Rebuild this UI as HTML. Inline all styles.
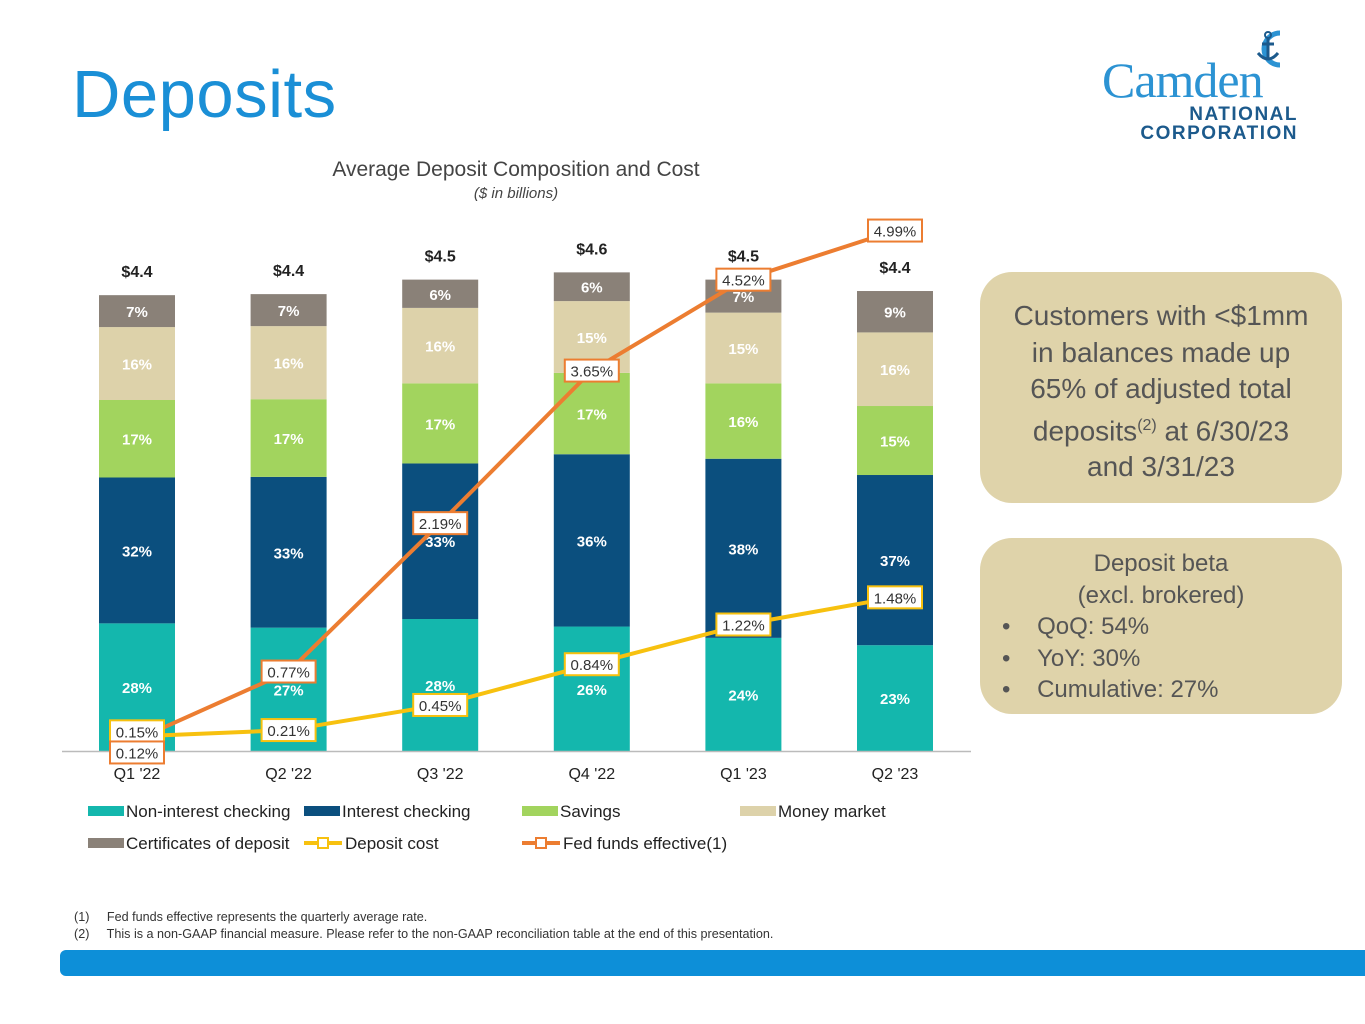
<!DOCTYPE html>
<html><head><meta charset="utf-8">
<style>
body{margin:0;width:1365px;height:1024px;background:#fff;font-family:"Liberation Sans","DejaVu Sans",sans-serif;position:relative;overflow:hidden}
.title{position:absolute;left:72px;top:56px;font-size:67px;color:#1a8fd6;letter-spacing:0.5px}
.box{position:absolute;background:#dfd3aa;border-radius:32px;color:#555;text-align:center}
.foot{position:absolute;left:74px;font-size:12.6px;color:#333}
</style></head><body>
<div class="title">Deposits</div>
<div style="position:absolute;left:1100px;top:25px;width:200px;height:120px">
<svg width="200" height="120" style="position:absolute;left:0;top:0"><path d="M180 8 A15 15 0 1 0 180 40" fill="none" stroke="#2c93d3" stroke-width="5"/><circle cx="168" cy="10" r="3" fill="none" stroke="#1c5a8c" stroke-width="2"/><path d="M168 13 v22 M162 19 h12 M158 28 q10 12 20 0" fill="none" stroke="#1c5a8c" stroke-width="3"/></svg>
<div style="position:absolute;left:2px;top:26px;font-family:'Liberation Serif',serif;font-size:50px;color:#2c93d3;letter-spacing:-1px">Camden</div>
<div style="position:absolute;right:2px;top:80px;font-size:19px;font-weight:bold;color:#1c5a8c;letter-spacing:1.5px;text-align:right;line-height:19px">NATIONAL<br>CORPORATION</div>
</div>
<div class="box" style="left:980px;top:272px;width:362px;height:231px;font-size:28px;line-height:36.5px;padding-top:26px;box-sizing:border-box">Customers with &lt;$1mm<br>in balances made up<br>65% of adjusted total<br>deposits<sup style="font-size:16px">(2)</sup> at 6/30/23<br>and 3/31/23</div>
<div class="box" style="left:980px;top:538px;width:362px;height:176px;font-size:24px;line-height:31.5px;padding-top:10px;box-sizing:border-box">
<div>Deposit beta</div><div>(excl. brokered)</div>
<div style="text-align:left;padding-left:22px">•&nbsp;&nbsp;&nbsp;&nbsp;QoQ: 54%</div>
<div style="text-align:left;padding-left:22px">•&nbsp;&nbsp;&nbsp;&nbsp;YoY: 30%</div>
<div style="text-align:left;padding-left:22px">•&nbsp;&nbsp;&nbsp;&nbsp;Cumulative: 27%</div></div>
<div class="foot" style="top:910px">(1)&nbsp;&nbsp;&nbsp;&nbsp; Fed funds effective represents the quarterly average rate.</div>
<div class="foot" style="top:927px">(2)&nbsp;&nbsp;&nbsp;&nbsp; This is a non-GAAP financial measure. Please refer to the non-GAAP reconciliation table at the end of this presentation.</div>
<div style="position:absolute;left:60px;top:950px;width:1305px;height:26px;background:#0d8fd8;border-radius:6px 0 0 6px"></div>
<svg id="chart" width="1365" height="1024" style="position:absolute;left:0;top:0"></svg>
<script>
const categories=["Q1 '22","Q2 '22","Q3 '22","Q4 '22","Q1 '23","Q2 '23"];
const totals=[4.40,4.41,4.55,4.62,4.55,4.44];
const totalLabels=["$4.4","$4.4","$4.5","$4.6","$4.5","$4.4"];
const nonInterest=[28,27,28,26,24,23];
const interest=[32,33,33,36,38,37];
const savings=[17,17,17,17,16,15];
const moneyMarket=[16,16,16,15,15,16];
const cds=[7,7,6,6,7,9];
const depositCost=[0.15,0.21,0.45,0.84,1.22,1.48];
const fedFunds=[0.12,0.77,2.19,3.65,4.52,4.99];
const NS="http://www.w3.org/2000/svg";
const svg=document.getElementById('chart');
const base=751, barW=76;
const x=i=>137+i*151.6;
const yB=v=>base-v*103.6;
const yR=v=>752-v*104.5;
function el(t,a,p){const e=document.createElementNS(NS,t);for(const k in a)e.setAttribute(k,a[k]);(p||svg).appendChild(e);return e;}
function txt(s,a){const e=el('text',a);e.textContent=s;return e;}
txt("Average Deposit Composition and Cost",{x:516,y:176,'text-anchor':'middle','font-size':21,fill:'#444'});
txt("($ in billions)",{x:516,y:198,'text-anchor':'middle','font-size':15,'font-style':'italic',fill:'#444'});
const series=[[nonInterest,'#14b7ad','non-interest-checking'],[interest,'#0b4f7e','interest-checking'],[savings,'#a2d45e','savings'],[moneyMarket,'#ddd2aa','money-market'],[cds,'#8a8178','certificates-of-deposit']];
categories.forEach((c,i)=>{
  let cum=0;
  series.forEach(([arr,col,nm])=>{
    const v0=totals[i]*cum/100, v1=totals[i]*(cum+arr[i])/100;
    const r=el('rect',{x:x(i)-barW/2,y:yB(v1),width:barW,height:yB(v0)-yB(v1),fill:col});
    
    
    const t=txt(arr[i]+'%',{x:x(i),y:(yB(v0)+yB(v1))/2+6,'text-anchor':'middle','font-size':15,'font-weight':'bold',fill:'#fff'});
    
    cum+=arr[i];
  });
  const tl=txt(totalLabels[i],{x:x(i),y:yB(totals[i])-18,'text-anchor':'middle','font-size':16,'font-weight':'bold',fill:'#222'});
  
  const cl=txt(c,{x:x(i),y:779,'text-anchor':'middle','font-size':16,fill:'#222'});
  
});
const ax=el('line',{x1:62,x2:971,y1:751.5,y2:751.5,stroke:'#bbb','stroke-width':1.5});

function line(arr,col,nm){
  const p=el('polyline',{points:arr.map((v,i)=>x(i)+','+yR(v)).join(' '),fill:'none',stroke:col,'stroke-width':4});
  
  
}
line(fedFunds,'#ec7d31','fed-funds');
line(depositCost,'#f7c10f','deposit-cost');
function label(v,i,col,dy){
  const s=v.toFixed(2)+'%';const cx=x(i),cy=yR(v)+dy;
  const r=el('rect',{x:cx-27,y:cy-11,width:54,height:22,fill:'#fff',stroke:col,'stroke-width':2});
  
  const t=txt(s,{x:cx,y:cy+6,'text-anchor':'middle','font-size':15,fill:'#333'});
  
}
depositCost.forEach((v,i)=>label(v,i,'#f7c10f',i===0?-5:0));
fedFunds.forEach((v,i)=>label(v,i,'#ec7d31',i===0?13:0));
const leg=[['Non-interest checking','#14b7ad',88,811,'rect'],['Interest checking','#0b4f7e',304,811,'rect'],['Savings','#a2d45e',522,811,'rect'],['Money market','#ddd2aa',740,811,'rect'],['Certificates of deposit','#8a8178',88,843,'rect'],['Deposit cost','#f7c10f',304,843,'line'],['Fed funds effective(1)','#ec7d31',522,843,'line']];
leg.forEach(([n,c,lx,ly,k])=>{
  if(k==='rect'){const r=el('rect',{x:lx,y:ly-5,width:36,height:10,fill:c});}
  else{const l=el('line',{x1:lx,x2:lx+38,y1:ly,y2:ly,stroke:c,'stroke-width':4});
    el('rect',{x:lx+14,y:ly-5,width:10,height:10,fill:'#fff',stroke:c,'stroke-width':2});}
  const t=txt(n,{x:lx+(k==='rect'?38:41),y:ly+6,'font-size':17,fill:'#222'});
  
});
</script>
</body></html>
